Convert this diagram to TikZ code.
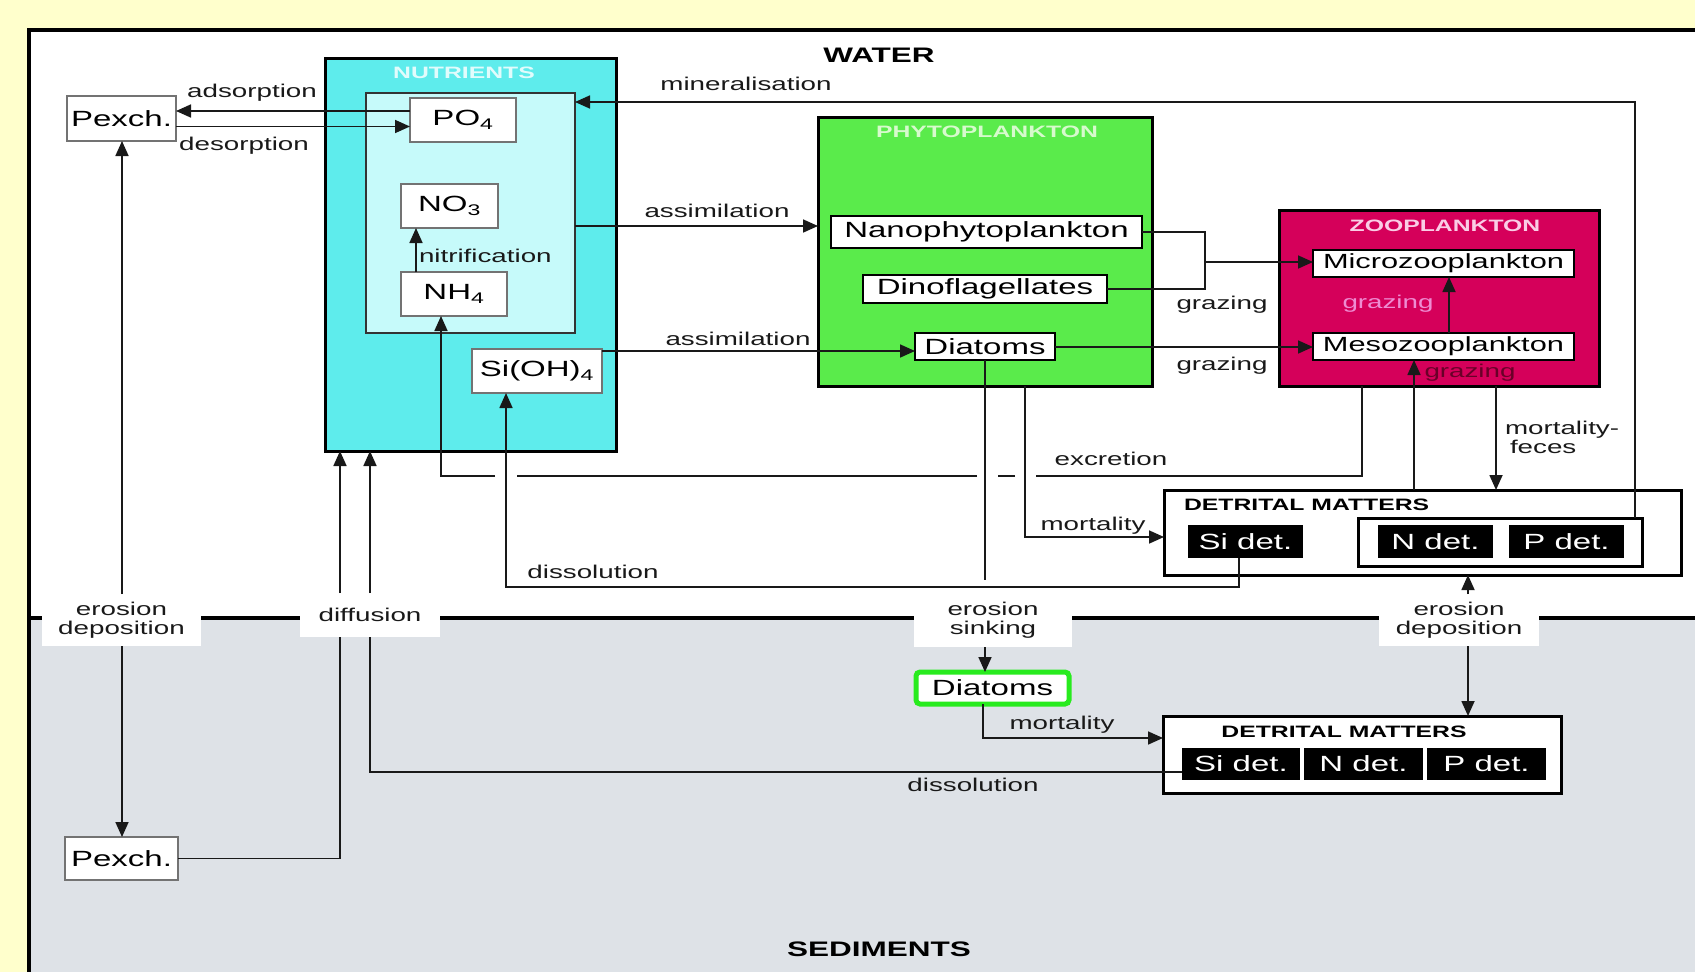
\documentclass[tikz,border=0pt]{standalone}
\usepackage{fontspec}
\setmainfont{Liberation Sans}[FakeStretch=1.5]
\usetikzlibrary{arrows.meta}
\definecolor{bgyel}{RGB}{255,255,204}
\definecolor{sedgrey}{RGB}{222,226,231}
\definecolor{nutcyan}{RGB}{94,236,236}
\definecolor{nutlight}{RGB}{198,250,250}
\definecolor{phygreen}{RGB}{90,235,75}
\definecolor{zoored}{RGB}{213,0,90}
\definecolor{diagreen}{RGB}{40,235,30}
\definecolor{lnc}{RGB}{25,25,25}
\definecolor{pinkg}{RGB}{238,140,210}
\definecolor{maroong}{RGB}{105,0,40}
\definecolor{nuttitle}{RGB}{225,252,252}
\definecolor{phytitle}{RGB}{215,250,205}
\definecolor{zootitle}{RGB}{250,205,230}
\begin{document}
\begin{tikzpicture}[x=1pt,y=-1pt,
  every node/.style={inner sep=0pt, outer sep=0pt, anchor=center},
  sz/.style 2 args={minimum width=#1pt, minimum height=#2pt},
  boxf/.style={font=\fontsize{22}{26}\selectfont},
  lblf/.style={font=\fontsize{18.5}{19}\selectfont, text=lnc},
  ttl/.style={font=\bfseries\fontsize{16.5}{18}\selectfont},
  bigf/.style={font=\bfseries\fontsize{21}{24}\selectfont},
  gbox/.style={rectangle, draw=black!55, line width=1.2pt, fill=white, boxf},
  kbox/.style={rectangle, draw=black, line width=2.5pt, fill=white, boxf},
  blk/.style={rectangle, fill=black, text=white, boxf},
  frame/.style={rectangle, draw=black, line width=3pt},
  lblbox/.style={rectangle, fill=white, lblf, align=center},
  con/.style={draw=lnc, line width=1.7pt},
  arr/.style={con, -{Triangle[length=15pt,width=13pt]}}
]
\useasboundingbox (0,0) rectangle (1695,972);
% backgrounds
\fill[bgyel] (0,0) rectangle (1695,972);
\fill[white] (29,30) rectangle (1695,618);
\fill[sedgrey] (29,618) rectangle (1695,972);
\draw[line width=3.5pt] (29,618) -- (1695,618);
\draw[line width=4pt] (29,972) -- (29,30) -- (1697,30);

\node[bigf] (water) at (879,55) {WATER};
\node[bigf] (sedim) at (879,949) {SEDIMENTS};

% nutrients
\node[frame, fill=nutcyan, sz={291}{393}] (nut) at (470.5,254.5) {};
\node[ttl, text=nuttitle] (nutt) at (464,73) {NUTRIENTS};
\node[rectangle, draw=black!80, line width=1.5pt, fill=nutlight, sz={209}{240}] (inner) at (470.5,213) {};
\node[gbox, sz={106}{44}] (po4) at (463,120) {PO\textsubscript{4}};
\node[gbox, sz={97}{44}] (no3) at (449.5,206) {NO\textsubscript{3}};
\node[gbox, sz={106}{44}] (nh4) at (454,294) {NH\textsubscript{4}};
\node[gbox, sz={130}{44}] (si4) at (537,371) {Si(OH)\textsubscript{4}};

\node[gbox, sz={109}{45}] (pex1) at (121.5,118.5) {Pexch.};
\node[gbox, sz={113}{43}] (pex2) at (121.5,858.5) {Pexch.};

% phytoplankton
\node[frame, fill=phygreen, sz={334}{269}] (phy) at (985,251.5) {};
\node[ttl, text=phytitle] (phyt) at (987,132) {PHYTOPLANKTON};
\node[kbox, sz={311}{32}] (nano) at (986.5,232) {Nanophytoplankton};
\node[kbox, sz={244}{28}] (dino) at (985,289) {Dinoflagellates};
\node[kbox, sz={140}{27}] (diat) at (985,346.5) {Diatoms};

% zooplankton
\node[frame, fill=zoored, sz={320}{176}] (zoo) at (1439,298) {};
\node[ttl, text=zootitle] (zoot) at (1445,226) {ZOOPLANKTON};
\node[kbox, font=\fontsize{20.5}{24}\selectfont, sz={261}{27}] (micro) at (1443.5,263.5) {Microzooplankton};
\node[kbox, font=\fontsize{20.5}{24}\selectfont, sz={261}{27}] (meso) at (1443.5,346.5) {Mesozooplankton};

% detrital matters (water)
\node[frame, fill=white, sz={517}{85}] (det) at (1422.5,532.5) {};
\node[ttl, anchor=west] (dett) at (1184,505) {DETRITAL MATTERS};
\node[blk, sz={115}{33}] (sidet) at (1245.5,541.5) {Si det.};
\node[frame, fill=white, sz={284}{48}] (npbox) at (1500,542) {};
\node[blk, sz={115}{33}] (ndet) at (1435.5,541.5) {N det.};
\node[blk, sz={115}{33}] (pdet) at (1566.5,541.5) {P det.};

% sediments
\node[rectangle, draw=diagreen, line width=5pt, rounded corners=4pt, fill=white, boxf, sz={153}{32}] (sdiat) at (992.5,688) {Diatoms};
\node[frame, fill=white, sz={398}{77}] (sdet) at (1362,754.5) {};
\node[ttl] (sdett) at (1344,732) {DETRITAL MATTERS};
\node[blk, sz={118}{32}] (ssidet) at (1241,764) {Si det.};
\node[blk, sz={119}{32}] (sndet) at (1363.5,764) {N det.};
\node[blk, sz={119}{32}] (spdet) at (1486.5,764) {P det.};

% labels on the interface
\node[lblbox, sz={159}{52}] (led1) at (121.5,620) {erosion\\deposition};
\node[lblbox, sz={140}{44}] (ldiff) at (370,615) {diffusion};
\node[lblbox, sz={158}{53}] (les) at (993,620.5) {erosion\\sinking};
\node[lblbox, sz={160}{52}] (led2) at (1459,620) {erosion\\deposition};

% helper levels
\coordinate (yad) at (0,111);
\coordinate (yde) at (0,126.5);
\coordinate (ymin) at (0,102);
\coordinate (yas1) at (0,226);
\coordinate (yas2) at (0,351);
\coordinate (ybr) at (0,262);
\coordinate (ygz2) at (0,347);
\coordinate (yexc) at (0,476);
\coordinate (ymort) at (0,537);
\coordinate (ydis) at (0,587);
\coordinate (ysmort) at (0,738);
\coordinate (ysdis) at (0,772);
\coordinate (xmin) at (1635,0);
\coordinate (xbr) at (1205,0);
\coordinate (xnit) at (416,0);
\coordinate (xgz) at (1449,0);
\coordinate (xgd) at (1414,0);
\coordinate (xexc) at (1362,0);
\coordinate (xmf) at (1496,0);
\coordinate (xnh) at (441,0);
\coordinate (xsi) at (506,0);
\coordinate (xsidet) at (1239,0);
\coordinate (xdiat) at (985,0);
\coordinate (xmort) at (1025,0);
\coordinate (xed1) at (122,0);
\coordinate (xed2) at (1468,0);
\coordinate (xd1) at (340,0);
\coordinate (xd2) at (370,0);
\coordinate (xsm) at (983,0);
\coordinate (g0) at (517,476);
\coordinate (g1) at (977,476);
\coordinate (g2) at (998,476);
\coordinate (g3) at (1015,476);
\coordinate (g4) at (1036,476);
\coordinate (gm) at (495,476);
\coordinate (dend) at (985,580);

% connectors
\draw[arr] (po4.west |- yad) -- (pex1.east |- yad);
\draw[arr] (pex1.east |- yde) -- (po4.west |- yde);
\draw[arr] (npbox.north -| xmin) -- (xmin |- ymin) -- (inner.east |- ymin);
\draw[arr] (inner.east |- yas1) -- (phy.west |- yas1);
\draw[arr] (si4.east |- yas2) -- (diat.west |- yas2);
\draw[arr] (nh4.north -| xnit) -- (no3.south -| xnit);
\draw[con] (nano.east) -- (xbr |- nano.east) -- (xbr |- dino.east) -- (dino.east);
\draw[arr] (xbr |- ybr) -- (micro.west |- ybr);
\draw[arr] (diat.east |- ygz2) -- (meso.west |- ygz2);
\draw[arr] (meso.north -| xgz) -- (micro.south -| xgz);
\draw[arr] (det.north -| xgd) -- (meso.south -| xgd);
\draw[con] (zoo.south -| xexc) -- (xexc |- yexc) -- (g4);
\draw[con] (g3) -- (g2);
\draw[con] (g1) -- (g0);
\draw[arr] (gm) -- (xnh |- yexc) -- (nh4.south -| xnh);
\draw[arr] (zoo.south -| xmf) -- (det.north -| xmf);
\draw[arr] (phy.south -| xmort) -- (xmort |- ymort) -- (det.west |- ymort);
\draw[arr] (sidet.south -| xsidet) -- (xsidet |- ydis) -- (xsi |- ydis) -- (si4.south -| xsi);
\draw[con] (diat.south -| xdiat) -- (dend);
\draw[arr] (les.south -| xdiat) -- (sdiat.north -| xdiat);
\draw[arr] (led1.north -| xed1) -- (pex1.south -| xed1);
\draw[arr] (led1.south -| xed1) -- (pex2.north -| xed1);
\draw[arr] (ldiff.north -| xd1) -- (nut.south -| xd1);
\draw[arr] (ldiff.north -| xd2) -- (nut.south -| xd2);
\draw[con] (pex2.east) -- (xd1 |- pex2.east) -- (ldiff.south -| xd1);
\draw[con] (ssidet.west |- ysdis) -- (xd2 |- ysdis) -- (ldiff.south -| xd2);
\draw[arr] (led2.north -| xed2) -- (det.south -| xed2);
\draw[arr] (led2.south -| xed2) -- (sdet.north -| xed2);
\draw[arr] (sdiat.south -| xsm) -- (xsm |- ysmort) -- (sdet.west |- ysmort);

% connector labels
\node[lblf] (l1) at (252,93) {adsorption};
\node[lblf] (l2) at (244,146) {desorption};
\node[lblf] (l3) at (746,84) {mineralisation};
\node[lblf] (l4) at (717,211) {assimilation};
\node[lblf] (l5) at (738,339) {assimilation};
\node[lblf, anchor=west] (l6) at (419,256) {nitrification};
\node[lblf] (l7) at (1222,305) {grazing};
\node[lblf] (l8) at (1222,366) {grazing};
\node[lblf, text=pinkg] (l9) at (1388,304) {grazing};
\node[lblf, text=maroong] (l10) at (1470,373) {grazing};
\node[lblf] (l11) at (1111,459) {excretion};
\node[lblf, anchor=west, align=left] (l12) at (1505,437) {mortality-\\\hspace*{5pt}feces};
\node[lblf] (l13) at (1093,526) {mortality};
\node[lblf] (l14) at (593,572) {dissolution};
\node[lblf] (l15) at (1062,725) {mortality};
\node[lblf] (l16) at (973,785) {dissolution};
\end{tikzpicture}
\end{document}
